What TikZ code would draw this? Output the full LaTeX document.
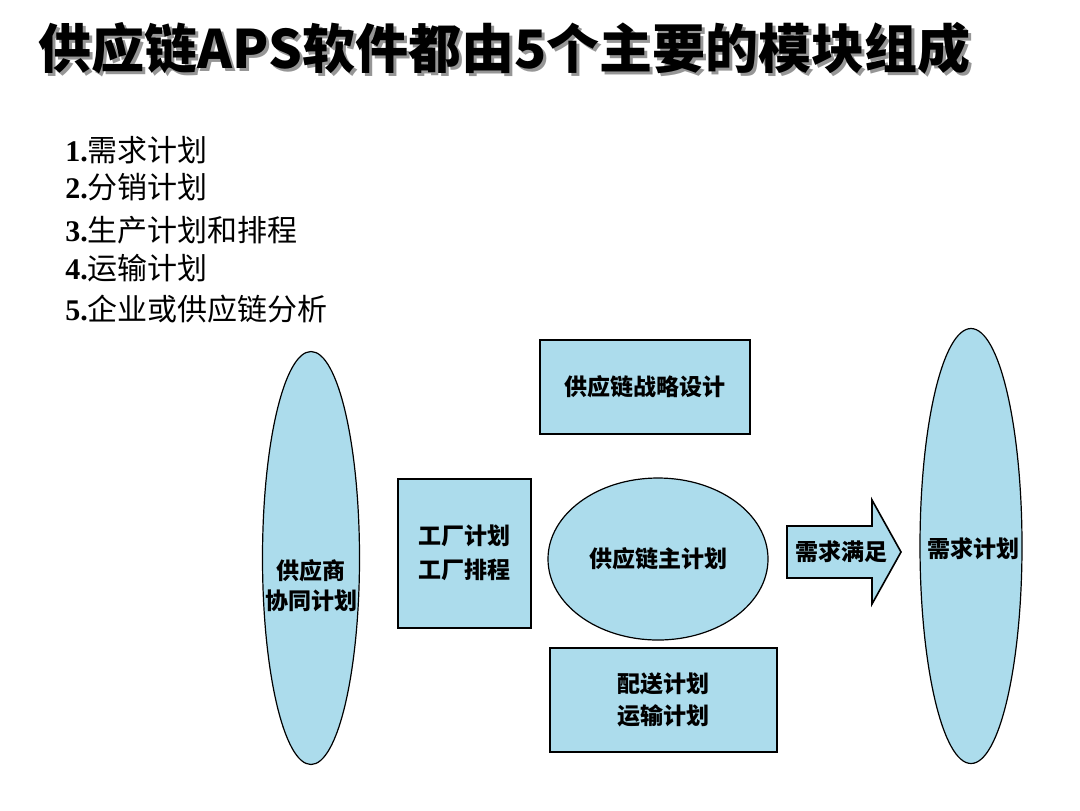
\documentclass[tikz,border=0pt]{standalone}
\usepackage{fontspec}
\setmainfont{Liberation Serif}
\newfontfamily\cjk{Noto Sans CJK SC}
\usetikzlibrary{shapes.geometric}
\definecolor{dropblue}{RGB}{172,220,236}
\definecolor{shadowgray}{RGB}{150,150,150}

\begin{document}
\begin{tikzpicture}[x=0.5pt,y=-0.5pt]
	\tikzstyle{drop} = [draw=black, fill=dropblue, inner sep=0pt, line width=1pt];
	\tikzstyle{pod} = [drop, ellipse, line width=0.6pt];
	\tikzstyle{lbl} = [inner sep=0pt, align=center, font=\cjk\bfseries\fontsize{11.5}{17}\selectfont];
	\tikzstyle{item} = [anchor=west, inner sep=0pt, font=\fontsize{15}{18}\selectfont];
	\tikzstyle{head} = [anchor=west, inner sep=0pt, font=\cjk\bfseries\fontsize{26.5}{30}\selectfont];
	
	\useasboundingbox (0,0) rectangle (1080,810);
	
	% title with its shadow
	\draw (41,51) node[head, text=shadowgray] (titleshadow) {供应链APS软件都由5个主要的模块组成};
	\draw (38,48) node[head] (title) {供应链APS软件都由5个主要的模块组成};
	
	\draw (65,150) node[item] (m1) {\textbf{1.}{\cjk 需求计划}};
	\draw (65,187) node[item] (m2) {\textbf{2.}{\cjk 分销计划}};
	\draw (65,230) node[item] (m3) {\textbf{3.}{\cjk 生产计划和排程}};
	\draw (65,268) node[item] (m4) {\textbf{4.}{\cjk 运输计划}};
	\draw (65,309) node[item] (m5) {\textbf{5.}{\cjk 企业或供应链分析}};
	
	\draw (311,558) node[pod, minimum width=48.5pt, minimum height=206.5pt] (supplier) {};
	\draw (311,586) node[lbl, font=\cjk\bfseries\fontsize{11.5}{15}\selectfont] (supplierlbl) {供应商\\协同计划};
	
	\draw (645,387) node[drop, minimum width=105pt, minimum height=47pt, lbl] (strategy) {供应链战略设计};
	\draw (464.5,553) node[drop, minimum width=66.5pt, minimum height=74.5pt, lbl] (factory) {工厂计划\\工厂排程};
	\draw (658,559) node[pod, minimum width=110pt, minimum height=81pt, lbl] (master) {供应链主计划};
	\draw (663.5,700) node[drop, minimum width=113.5pt, minimum height=52pt, lbl, font=\cjk\bfseries\fontsize{11.5}{16}\selectfont] (transport) {配送计划\\运输计划};
	
	% fat arrow
	\draw[drop, line width=0.8pt] (787,526) -- (872,526) -- (872,500) -- (901,552) -- (872,604) -- (872,578) -- (787,578) -- cycle;
	\draw (841,552) node[lbl] (fulfil) {需求满足};
	
	\draw (971,546) node[pod, minimum width=51pt, minimum height=217.5pt] (demand) {};
	\draw (973,549) node[lbl] (demandlbl) {需求计划};
\end{tikzpicture}
\end{document}
